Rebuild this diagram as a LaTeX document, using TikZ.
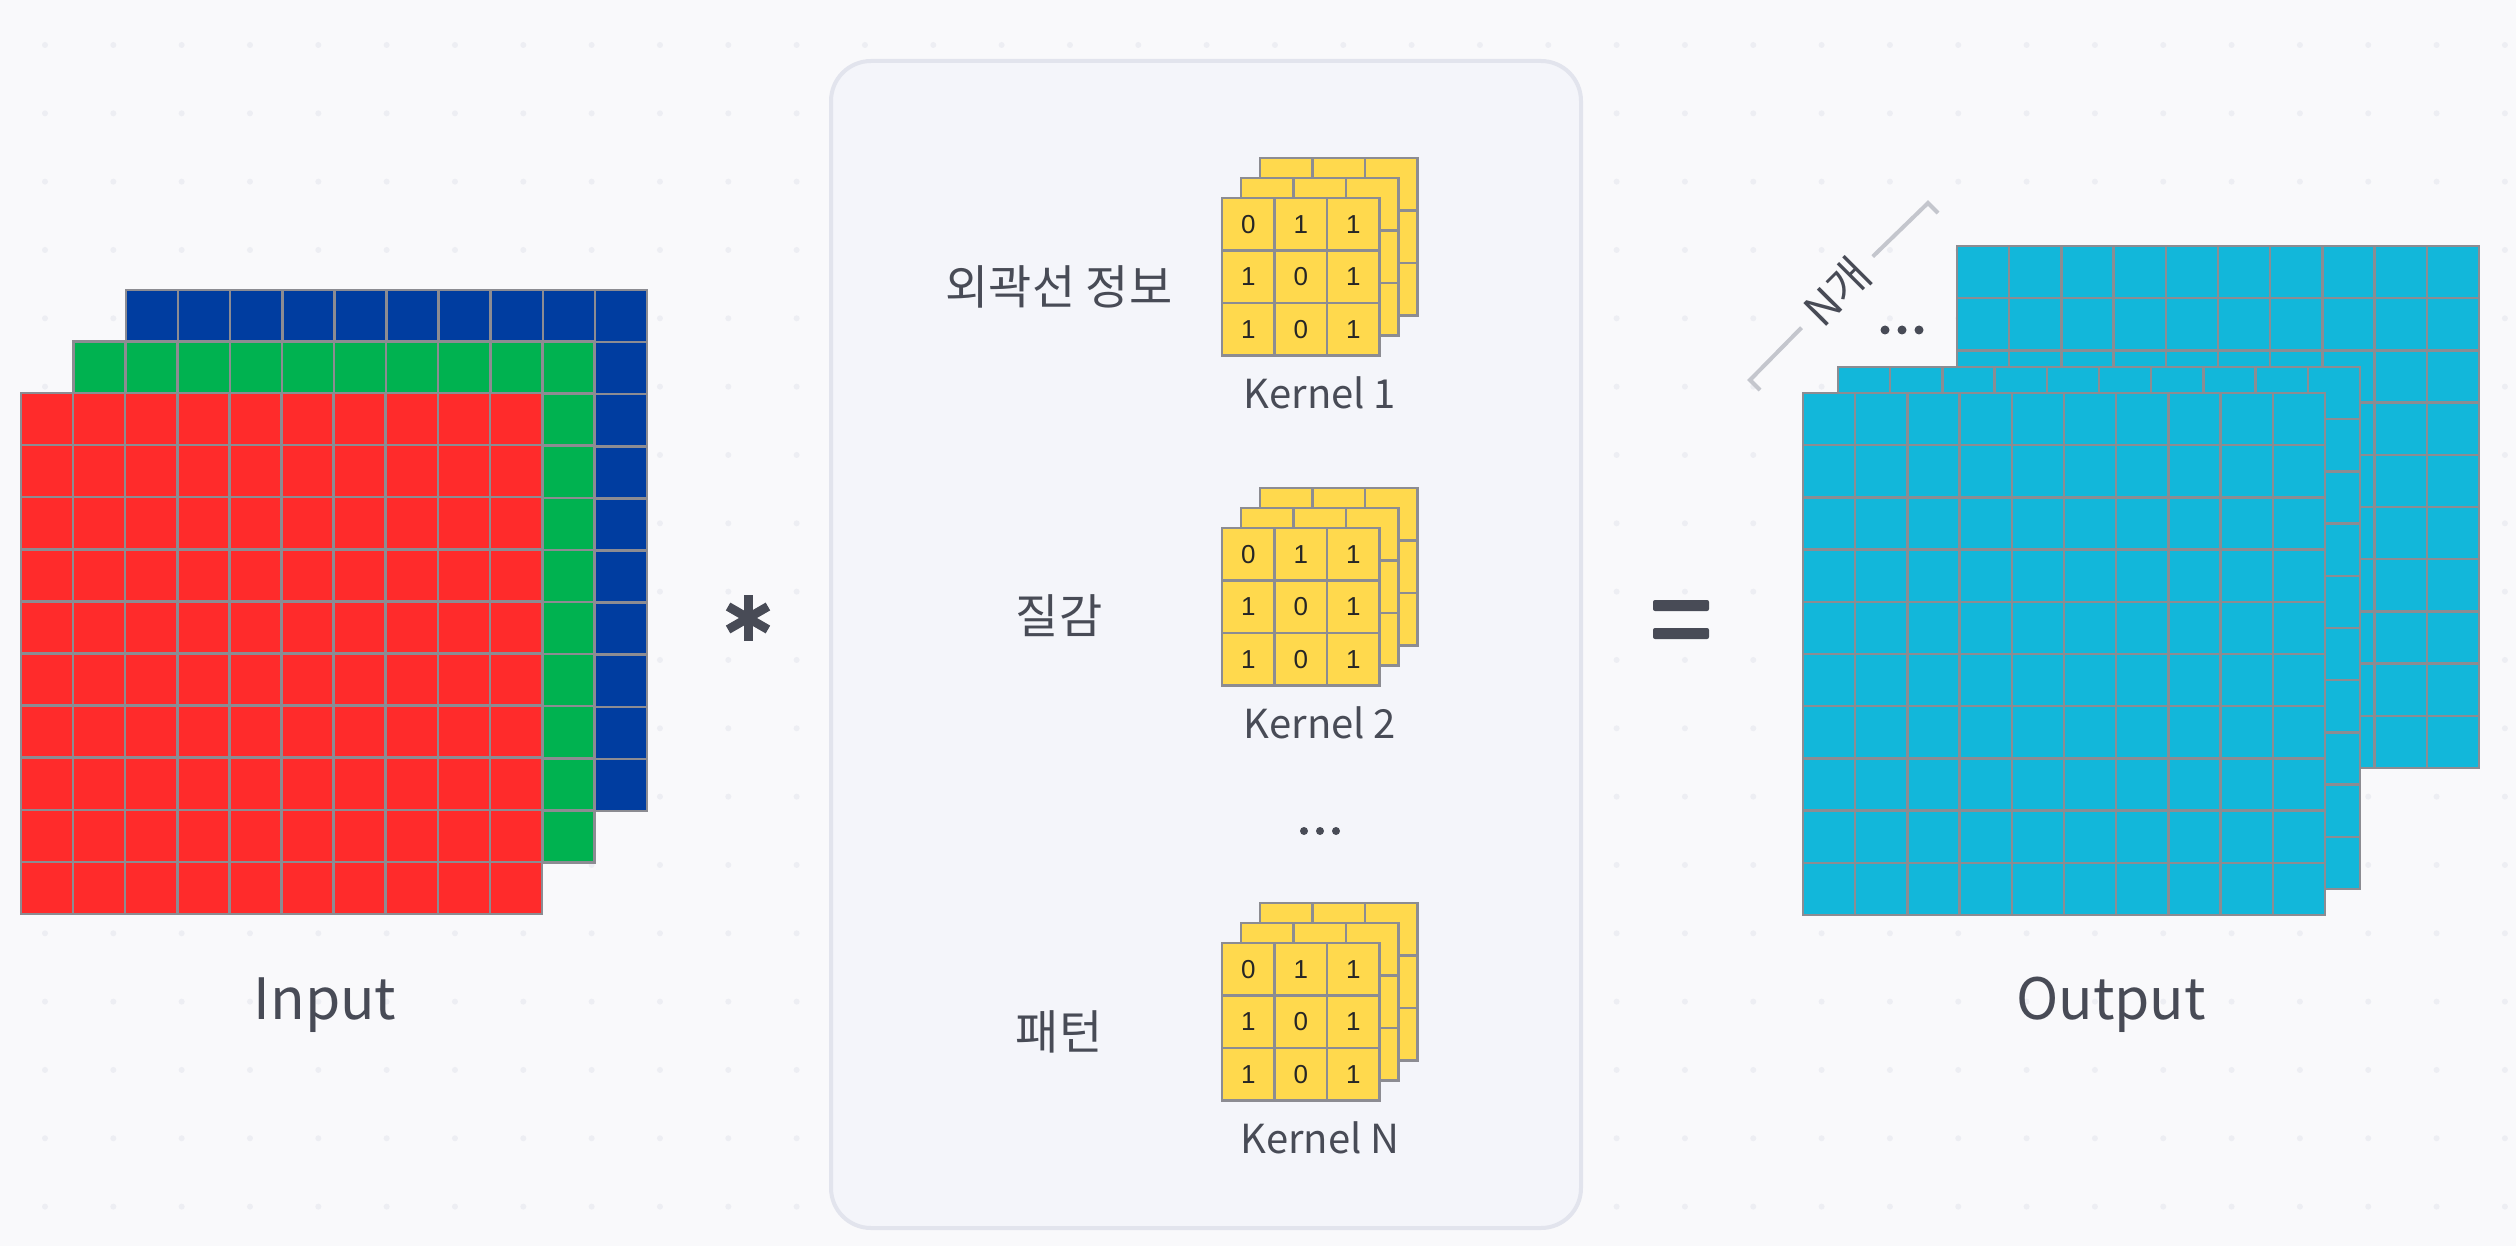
\documentclass[tikz,border=0pt]{standalone}
\usepackage{fontspec}
\setmainfont{Noto Sans CJK KR}
\newfontfamily\digitfont{Liberation Sans}
\definecolor{bgcol}{RGB}{249,249,251}
\definecolor{dotcol}{RGB}{237,238,243}
\definecolor{panelfill}{RGB}{244,245,250}
\definecolor{panelline}{RGB}{226,228,237}
\definecolor{gridcol}{RGB}{140,140,146}
\definecolor{inred}{RGB}{255,43,43}
\definecolor{ingreen}{RGB}{0,178,80}
\definecolor{inblue}{RGB}{0,61,160}
\definecolor{outcyan}{RGB}{18,183,218}
\definecolor{kernyellow}{RGB}{255,217,77}
\definecolor{txtgray}{RGB}{72,75,86}
\definecolor{bracketgray}{RGB}{196,198,205}

\begin{document}
\begin{tikzpicture}[x=1pt,y=-1pt,
    cellline/.style={draw=gridcol,line width=2.5pt,line cap=rect},
    title/.style={font=\fontsize{57}{66}\selectfont,text=txtgray,inner sep=0pt},
    feature/.style={font=\fontsize{47}{56}\selectfont,text=txtgray,inner sep=0pt},
    kname/.style={font=\fontsize{40}{48}\selectfont,text=txtgray,inner sep=0pt},
    digit/.style={font=\digitfont\fontsize{26}{30}\selectfont,text=black!85,inner sep=0pt}]

    % background with dots
    \fill[bgcol] (0,0) rectangle (2516,1246);
    \useasboundingbox (0,0) rectangle (2516,1246);
    \foreach \i in {0,...,36}
        \foreach \j in {0,...,17}
            \fill[dotcol] ({45+68.33*\i},{45+68.33*\j}) circle[radius=3pt];

    % input channels
    \foreach \x/\y/\col in {126/290/inblue, 73.5/341.5/ingreen, 21/393/inred}{
        \fill[\col] (\x,\y) rectangle ++(521,521);
        \foreach \k in {0,...,10}{
            \draw[cellline] ({\x+52.1*\k},\y) -- ++(0,521);
            \draw[cellline] (\x,{\y+52.1*\k}) -- ++(521,0);
        }
    }
    \node[title,anchor=base] (input) at (325,1019) {Input};

    % convolution sign
    \coordinate (conv) at (748,618);
    \foreach \a in {90,30,150}
        \draw[txtgray,line width=9pt] (conv) ++(\a:23) -- ++(\a+180:46);

    % kernel panel
    \draw[panelline,line width=4pt,fill=panelfill,rounded corners=40pt] (831,61) rectangle (1581,1228);
    \foreach \kid/\ky/\kfeat/\fy in {1/198/외곽선 정보/287, 2/528/질감/616, N/943/패턴/1032}{
        \foreach \l in {2,1,0}{
            \pgfmathsetmacro\lx{1222+19*\l}
            \pgfmathsetmacro\ly{\ky-20*\l}
            \fill[kernyellow] (\lx,\ly) rectangle ++(157.5,157.5);
            \foreach \k in {0,...,3}{
                \draw[cellline] ({\lx+52.5*\k},\ly) -- ++(0,157.5);
                \draw[cellline] (\lx,{\ly+52.5*\k}) -- ++(157.5,0);
            }
        }
        \foreach \cx/\cy/\v in {0/0/0,1/0/1,2/0/1,0/1/1,1/1/0,2/1/1,0/2/1,1/2/0,2/2/1}
            \node[digit] (k\kid-\cx\cy) at ({1222+26.25+52.5*\cx},{\ky+26.25+52.5*\cy}) {\v};
        \node[kname,anchor=base] (kern\kid) at (1320,\ky+210) {Kernel \kid};
        \node[feature] (feat\kid) at (1059,\fy) {\kfeat};
    }
    \foreach \dx in {-16,0,16}
        \fill[txtgray] (1320+\dx,831) circle[radius=4pt];

    % equals sign
    \coordinate (eq) at (1681,620);
    \fill[txtgray,rounded corners=2pt] (1653,600) rectangle (1709,611);
    \fill[txtgray,rounded corners=2pt] (1653,628) rectangle (1709,639);

    % output feature maps
    \foreach \x/\y in {1957/246, 1838/367, 1803/393}{
        \fill[outcyan] (\x,\y) rectangle ++(522,522);
        \foreach \k in {0,...,10}{
            \draw[cellline] ({\x+52.2*\k},\y) -- ++(0,522);
            \draw[cellline] (\x,{\y+52.2*\k}) -- ++(522,0);
        }
    }
    \foreach \dx in {0,17,34}
        \fill[txtgray] (1885+\dx,330) circle[radius=4.5pt];
    \node[title,anchor=base] (output) at (2111,1019) {Output};

    % N count bracket
    \coordinate (brA) at (1750,380);
    \coordinate (brB) at (1928,203);
    \node[kname,font=\fontsize{44}{52}\selectfont,rotate=45] (ncount) at (1837,292) {N개};
    \draw[bracketgray,line width=4pt,shorten >=14pt] (1760,390) -- (brA) -- (ncount.west);
    \draw[bracketgray,line width=4pt,shorten <=14pt] (ncount.east) -- (brB) -- (1938,213);

\end{tikzpicture}
\end{document}
